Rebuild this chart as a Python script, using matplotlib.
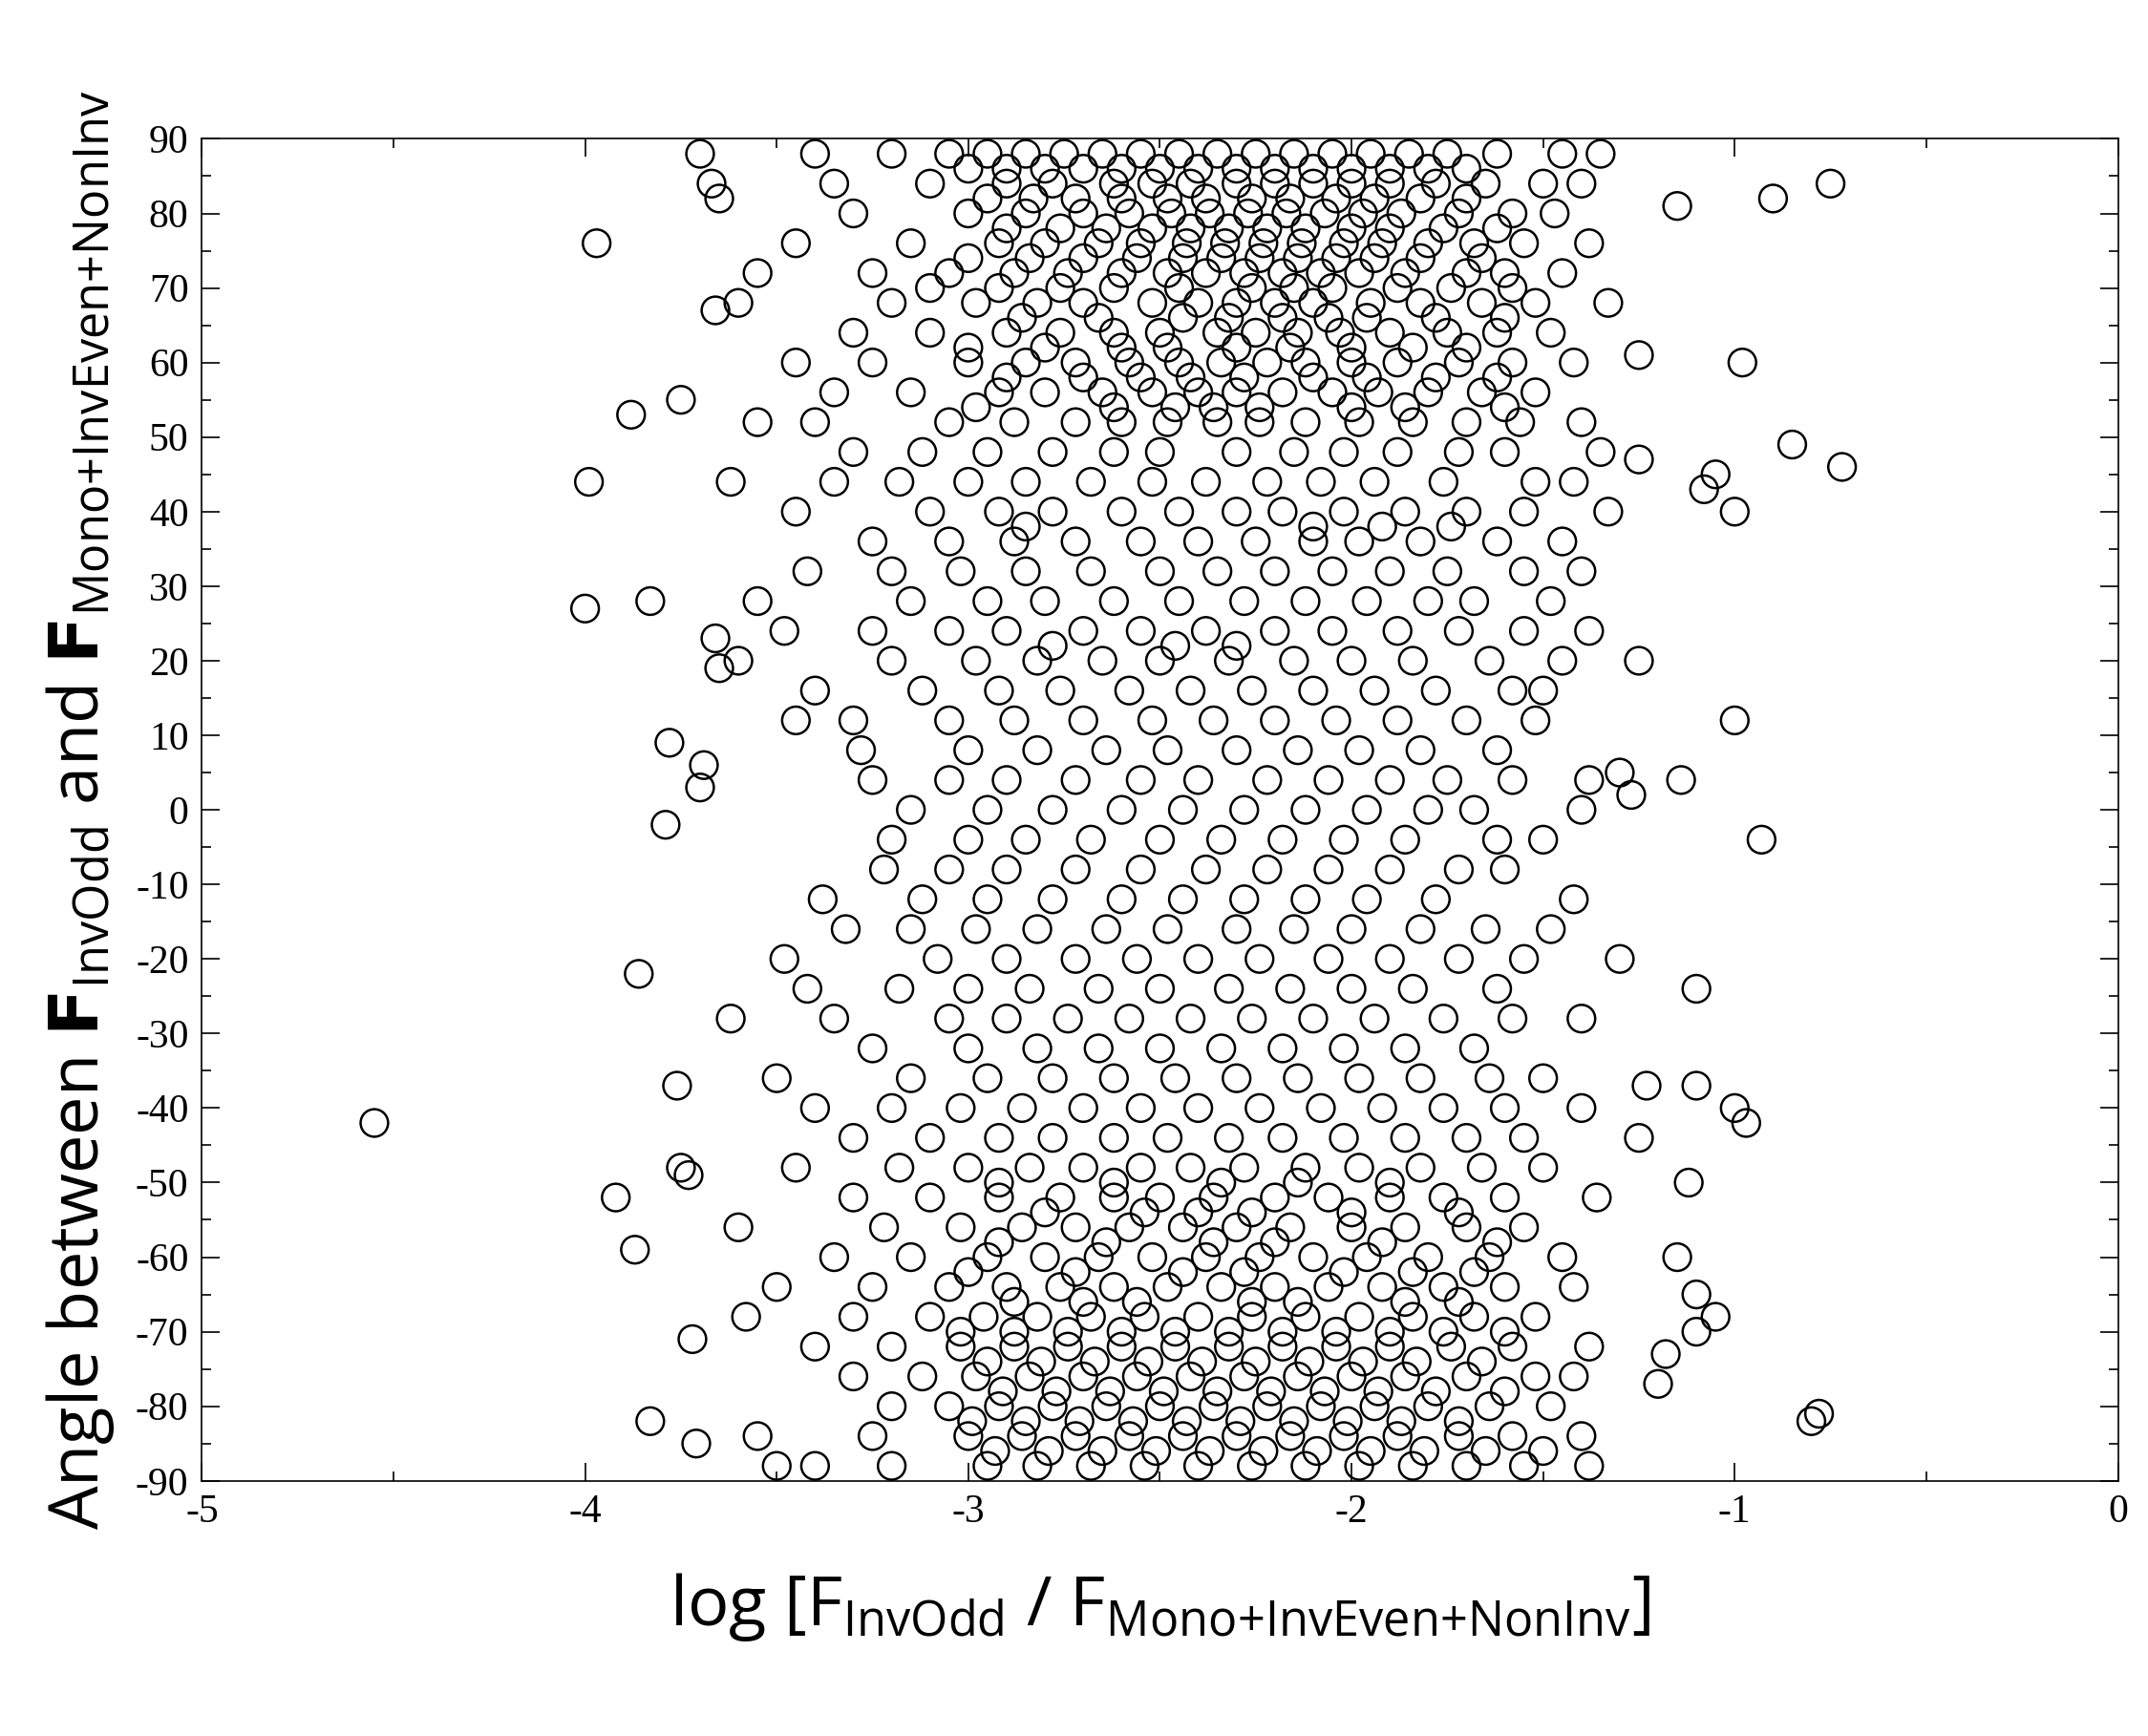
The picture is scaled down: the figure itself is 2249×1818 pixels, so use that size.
import matplotlib
matplotlib.use("Agg")
import matplotlib.pyplot as plt
from matplotlib.ticker import MultipleLocator

# Outlying points (x = log ratio, y = angle)
out_x = [-4.55,-3.97,-4.0,-3.99,-3.88,-3.83,-3.78,-3.79,-3.86,-3.92,-3.87,-3.83,-3.76,-3.75,-3.70,-3.67,-3.65,-3.66,-3.66,-3.65,-3.69,-3.70,-3.73,-3.75,-3.72,-3.71,
         -0.75,-0.9,-1.15,-0.98,-0.85,-0.72,-1.0,-1.05,-1.08,-1.0,-0.93,-1.1,-1.1,-1.0,-0.97,-1.12,-1.05,-1.1,-1.18,-1.15,-1.2,-0.78,-0.8,-1.1,-1.14,-1.25,-1.25,-1.25,-1.27,-1.3,-1.23,-1.25,-1.3]
out_y = [-42,76,27,44,53,28,9,-2,-22,-52,-59,-82,-37,55,88,84,82,67,23,19,6,3,-49,-48,-71,-85,
         84,82,81,60,49,46,40,45,43,12,-4,-24,-37,-40,-42,-50,-68,-70,-73,-60,-77,-81,-82,-65,4,61,47,20,2,5,-37,-44,-20]

# Main cloud: for each angle band, the x positions
bands = {
 88: [-3.4,-3.2,-3.05,-2.95,-2.85,-2.75,-2.65,-2.55,-2.45,-2.35,-2.25,-2.15,-2.05,-1.95,-1.85,-1.75,-1.62,-1.45,-1.35],
 86: [-3.0,-2.9,-2.8,-2.7,-2.6,-2.5,-2.4,-2.3,-2.2,-2.1,-2.0,-1.9,-1.8,-1.7],
 84: [-3.35,-3.1,-2.9,-2.78,-2.62,-2.52,-2.42,-2.3,-2.2,-2.1,-2.0,-1.9,-1.78,-1.65,-1.5,-1.4],
 82: [-2.95,-2.83,-2.72,-2.6,-2.48,-2.38,-2.26,-2.16,-2.04,-1.94,-1.82,-1.7],
 80: [-3.3,-3.0,-2.85,-2.7,-2.58,-2.47,-2.37,-2.27,-2.17,-2.07,-1.97,-1.87,-1.72,-1.58,-1.47],
 78: [-2.9,-2.76,-2.64,-2.52,-2.42,-2.32,-2.22,-2.12,-2.0,-1.9,-1.76,-1.62],
 76: [-3.45,-3.15,-2.92,-2.8,-2.66,-2.55,-2.43,-2.33,-2.23,-2.13,-2.02,-1.92,-1.8,-1.68,-1.55,-1.38],
 74: [-3.0,-2.84,-2.7,-2.56,-2.44,-2.34,-2.24,-2.14,-2.04,-1.94,-1.82,-1.66],
 72: [-3.55,-3.25,-3.05,-2.88,-2.74,-2.6,-2.48,-2.38,-2.28,-2.18,-2.08,-1.98,-1.86,-1.7,-1.6,-1.45],
 70: [-3.1,-2.92,-2.76,-2.62,-2.45,-2.26,-2.15,-2.05,-1.88,-1.74,-1.58],
 68: [-3.6,-3.2,-2.98,-2.82,-2.7,-2.52,-2.4,-2.3,-2.2,-2.1,-1.95,-1.82,-1.66,-1.52,-1.33],
 66: [-2.86,-2.66,-2.44,-2.32,-2.18,-2.06,-1.96,-1.78,-1.6],
 64: [-3.3,-3.1,-2.9,-2.76,-2.62,-2.5,-2.35,-2.25,-2.14,-2.03,-1.9,-1.75,-1.62,-1.48],
 62: [-3.0,-2.8,-2.6,-2.48,-2.3,-2.16,-2.0,-1.84,-1.7],
 60: [-3.45,-3.25,-3.0,-2.85,-2.72,-2.58,-2.45,-2.34,-2.22,-2.12,-2.0,-1.88,-1.72,-1.58,-1.42],
 58: [-2.9,-2.7,-2.55,-2.42,-2.28,-2.1,-1.96,-1.78,-1.62],
 56: [-3.35,-3.15,-2.92,-2.8,-2.65,-2.52,-2.4,-2.3,-2.18,-2.05,-1.93,-1.8,-1.66,-1.52],
 54: [-2.98,-2.62,-2.46,-2.36,-2.24,-2.0,-1.86,-1.6],
 52: [-3.55,-3.4,-3.05,-2.88,-2.72,-2.6,-2.48,-2.35,-2.24,-2.12,-1.98,-1.84,-1.7,-1.56,-1.4],
 48: [-3.3,-3.12,-2.95,-2.78,-2.62,-2.5,-2.3,-2.15,-2.02,-1.88,-1.72,-1.6,-1.35],
 44: [-3.62,-3.35,-3.18,-3.0,-2.85,-2.68,-2.52,-2.38,-2.22,-2.08,-1.94,-1.76,-1.52,-1.42],
 40: [-3.45,-3.1,-2.92,-2.78,-2.6,-2.45,-2.3,-2.18,-2.02,-1.86,-1.7,-1.55,-1.33],
 38: [-2.85,-2.1,-1.92,-1.74],
 36: [-3.25,-3.05,-2.88,-2.72,-2.55,-2.4,-2.25,-2.1,-1.98,-1.82,-1.62,-1.45],
 32: [-3.42,-3.2,-3.02,-2.85,-2.68,-2.5,-2.35,-2.2,-2.05,-1.9,-1.75,-1.55,-1.4],
 28: [-3.55,-3.15,-2.95,-2.8,-2.62,-2.45,-2.28,-2.12,-1.96,-1.8,-1.68,-1.48],
 24: [-3.48,-3.25,-3.05,-2.9,-2.7,-2.55,-2.38,-2.2,-2.05,-1.88,-1.72,-1.55,-1.38],
 22: [-2.78,-2.46,-2.3],
 20: [-3.6,-3.2,-2.98,-2.82,-2.65,-2.5,-2.32,-2.15,-2.0,-1.84,-1.64,-1.45],
 16: [-3.4,-3.12,-2.92,-2.76,-2.58,-2.42,-2.26,-2.1,-1.94,-1.78,-1.58,-1.5],
 12: [-3.45,-3.3,-3.05,-2.88,-2.7,-2.52,-2.36,-2.2,-2.04,-1.88,-1.7,-1.52],
  8: [-3.28,-3.0,-2.82,-2.64,-2.48,-2.3,-2.14,-1.98,-1.82,-1.62],
  4: [-3.25,-3.05,-2.9,-2.72,-2.55,-2.4,-2.22,-2.06,-1.9,-1.75,-1.58,-1.38],
  0: [-3.15,-2.95,-2.78,-2.6,-2.44,-2.28,-2.12,-1.96,-1.8,-1.68,-1.4],
 -4: [-3.2,-3.0,-2.85,-2.68,-2.5,-2.34,-2.18,-2.02,-1.86,-1.62,-1.5],
 -8: [-3.22,-3.05,-2.9,-2.72,-2.55,-2.38,-2.22,-2.06,-1.9,-1.72,-1.6],
 -12: [-3.38,-3.12,-2.95,-2.78,-2.6,-2.44,-2.28,-2.12,-1.96,-1.78,-1.42],
 -16: [-3.32,-3.15,-2.98,-2.82,-2.64,-2.48,-2.3,-2.15,-2.0,-1.82,-1.65,-1.48],
 -20: [-3.48,-3.08,-2.9,-2.72,-2.56,-2.4,-2.24,-2.06,-1.9,-1.72,-1.55],
 -24: [-3.42,-3.18,-3.0,-2.84,-2.66,-2.5,-2.32,-2.16,-2.0,-1.84,-1.62],
 -28: [-3.62,-3.35,-3.05,-2.9,-2.74,-2.58,-2.42,-2.26,-2.1,-1.94,-1.76,-1.58,-1.4],
 -32: [-3.25,-3.0,-2.82,-2.66,-2.5,-2.34,-2.18,-2.02,-1.86,-1.68],
 -36: [-3.5,-3.15,-2.95,-2.78,-2.62,-2.46,-2.3,-2.14,-1.98,-1.82,-1.64,-1.5],
 -40: [-3.4,-3.2,-3.02,-2.86,-2.7,-2.55,-2.4,-2.24,-2.08,-1.92,-1.76,-1.6,-1.4],
 -44: [-3.3,-3.1,-2.92,-2.78,-2.62,-2.48,-2.32,-2.18,-2.02,-1.86,-1.7,-1.55],
 -48: [-3.45,-3.18,-3.0,-2.84,-2.7,-2.55,-2.42,-2.28,-2.12,-1.98,-1.82,-1.66,-1.5],
 -50: [-2.92,-2.62,-2.34,-2.14,-1.9],
 -52: [-3.3,-3.1,-2.92,-2.76,-2.62,-2.5,-2.36,-2.2,-2.06,-1.9,-1.76,-1.6,-1.36],
 -54: [-2.8,-2.54,-2.4,-2.26,-2.0,-1.72],
 -56: [-3.6,-3.22,-3.02,-2.86,-2.72,-2.58,-2.44,-2.3,-2.16,-2.0,-1.86,-1.7,-1.55],
 -58: [-2.92,-2.64,-2.36,-2.2,-1.92,-1.62],
 -60: [-3.35,-3.15,-2.95,-2.8,-2.66,-2.52,-2.38,-2.24,-2.1,-1.96,-1.8,-1.64,-1.45],
 -62: [-3.0,-2.72,-2.44,-2.28,-2.02,-1.84,-1.68],
 -64: [-3.5,-3.25,-3.05,-2.9,-2.76,-2.62,-2.48,-2.34,-2.2,-2.06,-1.92,-1.76,-1.6,-1.42],
 -66: [-2.88,-2.7,-2.56,-2.26,-2.14,-1.86,-1.72],
 -68: [-3.58,-3.3,-3.1,-2.96,-2.82,-2.68,-2.54,-2.4,-2.26,-2.12,-1.98,-1.84,-1.68,-1.52],
 -70: [-3.02,-2.88,-2.74,-2.6,-2.46,-2.32,-2.18,-2.04,-1.9,-1.76,-1.6],
 -72: [-3.4,-3.2,-3.02,-2.88,-2.74,-2.6,-2.46,-2.32,-2.18,-2.04,-1.9,-1.74,-1.58,-1.38],
 -74: [-2.95,-2.81,-2.67,-2.53,-2.39,-2.25,-2.11,-1.97,-1.83,-1.66],
 -76: [-3.3,-3.12,-2.98,-2.84,-2.7,-2.56,-2.42,-2.28,-2.14,-2.0,-1.86,-1.7,-1.52,-1.42],
 -78: [-2.91,-2.77,-2.63,-2.49,-2.35,-2.21,-2.07,-1.93,-1.78,-1.6],
 -80: [-3.2,-3.05,-2.92,-2.78,-2.64,-2.5,-2.36,-2.22,-2.08,-1.94,-1.8,-1.64,-1.48],
 -82: [-2.99,-2.85,-2.71,-2.57,-2.43,-2.29,-2.15,-2.01,-1.87,-1.72],
 -84: [-3.55,-3.25,-3.0,-2.86,-2.72,-2.58,-2.44,-2.3,-2.16,-2.02,-1.88,-1.72,-1.58,-1.4],
 -86: [-2.93,-2.79,-2.65,-2.51,-2.37,-2.23,-2.09,-1.95,-1.81,-1.65,-1.5],
 -88: [-3.5,-3.4,-3.2,-2.95,-2.82,-2.68,-2.54,-2.4,-2.26,-2.12,-1.98,-1.84,-1.7,-1.55,-1.38],
}

xs = list(out_x)
ys = list(out_y)
for yv, xl in bands.items():
    xs += xl
    ys += [yv] * len(xl)

fig = plt.figure(figsize=(22.49, 18.18), dpi=100)
ax = fig.add_axes([0.094, 0.147, 0.892, 0.773])
ax.scatter(xs, ys, s=430, facecolors='none', edgecolors='black', linewidths=1.8)
ax.set_xlim(-5, 0)
ax.set_ylim(-90, 90)
ax.xaxis.set_minor_locator(MultipleLocator(0.5))
ax.yaxis.set_minor_locator(MultipleLocator(5))
ax.tick_params(which='both', direction='in', top=True, right=True, width=1.2)
ax.tick_params(which='major', length=14, pad=10)
ax.tick_params(which='minor', length=7)
ax.set_yticks(range(-90, 91, 10))
ax.set_yticklabels([str(v) for v in range(-90, 91, 10)], family='Liberation Serif', fontsize=30)
ax.set_xticks(range(-5, 1))
ax.set_xticklabels([str(v) for v in range(-5, 1)], family='Liberation Serif', fontsize=30)
for sp in ax.spines.values():
    sp.set_linewidth(1.2)
ax.set_xlabel(r'log [F$_{\mathregular{InvOdd}}$ / F$_{\mathregular{Mono{+}InvEven{+}NonInv}}$]',
              family='Open Sans', fontsize=52, labelpad=30)
ax.set_ylabel(r'Angle between $\mathbf{F}_{\mathregular{InvOdd}}$ and $\mathbf{F}_{\mathregular{Mono{+}InvEven{+}NonInv}}$',
              family='Open Sans', fontsize=52, labelpad=14)
fig.savefig('out.png', dpi=100)
